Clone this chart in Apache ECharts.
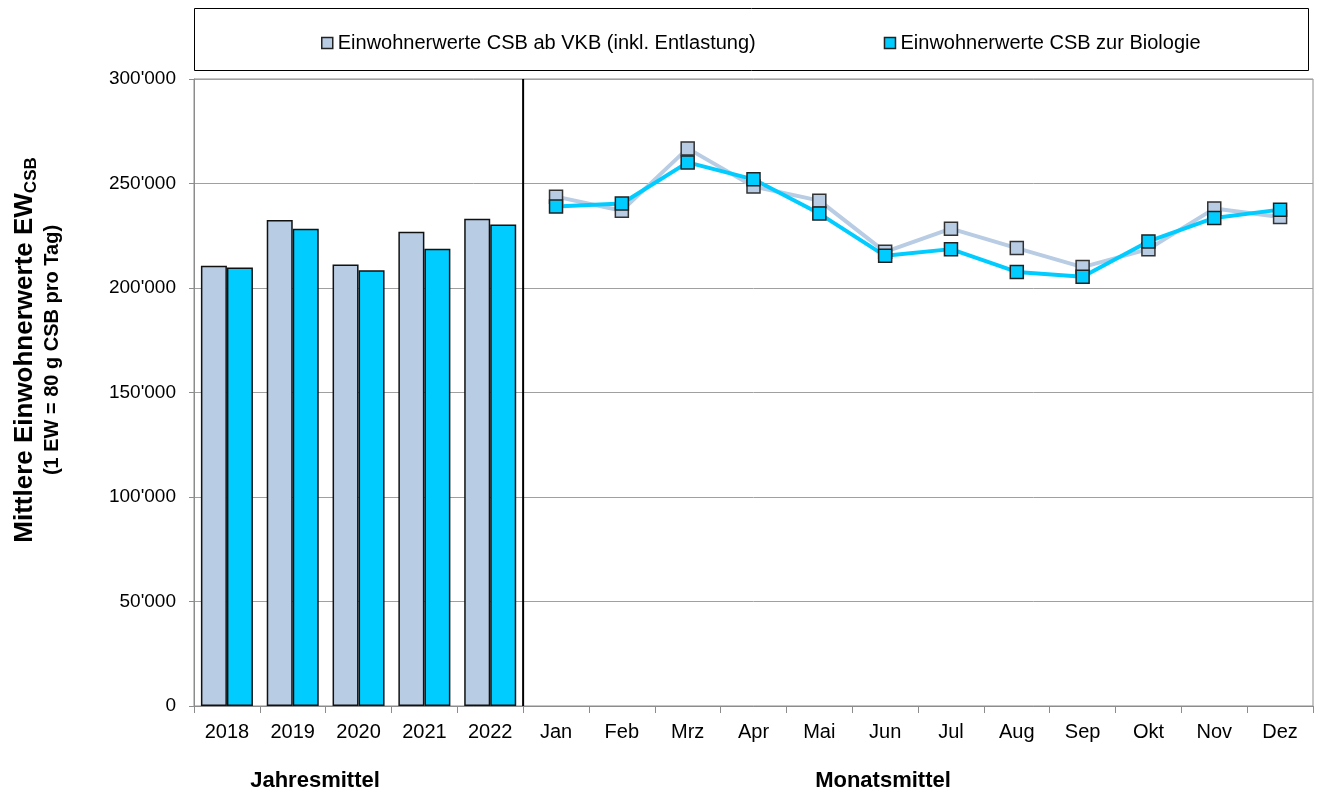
<!DOCTYPE html>
<html>
<head>
<meta charset="utf-8">
<script src="https://cdn.jsdelivr.net/npm/echarts@6/dist/echarts.min.js"></script>
<style>
  html, body { margin: 0; padding: 0; background: #fff; }
  #chart { width: 1322px; height: 793px; }
</style>
</head>
<body>
<div id="chart"></div>
<script>
// categories: yearly means then monthly means
const years = ['2018', '2019', '2020', '2021', '2022'];
const months = ['Jan', 'Feb', 'Mrz', 'Apr', 'Mai', 'Jun', 'Jul', 'Aug', 'Sep', 'Okt', 'Nov', 'Dez'];

// yearly means (bars)
const yearVkb = [210600, 232500, 211200, 226900, 233100];
const yearBio = [209800, 228400, 208500, 218800, 230400];

// monthly means (lines)
const monthVkb = [243700, 237000, 266800, 248600, 241800, 217300, 228400, 219100, 210000, 218600, 238000, 234000];
const monthBio = [239000, 240400, 260100, 252000, 235600, 215400, 218600, 207700, 205400, 222300, 233500, 237500];

const yTicks = [0, 50000, 100000, 150000, 200000, 250000, 300000];

const nameVkb = 'Einwohnerwerte CSB ab VKB (inkl. Entlastung)';
const nameBio = 'Einwohnerwerte CSB zur Biologie';

const colVkb = '#b8cce4';
const colBio = '#00ccff';
const font = 'Liberation Sans, Arial, sans-serif';

const categories = years.concat(months);
const blanksY = months.map(() => '-');
const blanksM = years.map(() => '-');

function fmt(v) {
    return String(v).replace(/\B(?=(\d{3})+(?!\d))/g, "'");
}

const chart = echarts.init(document.getElementById('chart'));

const option = {
    animation: false,
    textStyle: { fontFamily: font },
    grid: {
        left: 194, right: 9, top: 79, bottom: 87,
        show: true, borderColor: '#8c8c8c', borderWidth: 1
    },
    legend: {
        top: 28,
        left: 316,
        itemWidth: 11,
        itemHeight: 11,
        itemGap: 128,
        textStyle: { fontSize: 20, color: '#000', fontFamily: font },
        data: [
            { name: nameVkb, icon: 'rect', itemStyle: { color: colVkb, borderColor: '#222', borderWidth: 1.5 } },
            { name: nameBio, icon: 'rect', itemStyle: { color: colBio, borderColor: '#222', borderWidth: 1.5 } }
        ]
    },
    xAxis: {
        type: 'category',
        data: categories,
        boundaryGap: true,
        axisLine: { lineStyle: { color: '#8c8c8c' } },
        axisTick: { show: true, length: 7, lineStyle: { color: '#8c8c8c' } },
        axisLabel: { color: '#000', fontSize: 20, margin: 16, fontFamily: font, interval: 0 }
    },
    yAxis: {
        type: 'value',
        min: yTicks[0],
        max: yTicks[yTicks.length - 1],
        interval: 50000,
        axisLine: { show: true, lineStyle: { color: '#8c8c8c' } },
        axisTick: { show: true, length: 5, lineStyle: { color: '#8c8c8c' } },
        axisLabel: { color: '#000', fontSize: 19, margin: 18, fontFamily: font, formatter: fmt },
        splitLine: { lineStyle: { color: '#a0a0a0', width: 1 } }
    },
    series: [
        {
            name: nameVkb, type: 'bar', barWidth: 26, barGap: '0%',
            data: yearVkb.concat(blanksY),
            itemStyle: { color: colVkb, borderColor: '#111', borderWidth: 1.5 }
        },
        {
            name: nameBio, type: 'bar', barWidth: 26, barGap: '0%',
            data: yearBio.concat(blanksY),
            itemStyle: { color: colBio, borderColor: '#111', borderWidth: 1.5 }
        },
        {
            name: nameVkb, type: 'line',
            data: blanksM.concat(monthVkb),
            symbol: 'rect', symbolSize: 13,
            lineStyle: { color: colVkb, width: 4 },
            itemStyle: { color: colVkb, borderColor: '#333', borderWidth: 1.5 }
        },
        {
            name: nameBio, type: 'line',
            data: blanksM.concat(monthBio),
            symbol: 'rect', symbolSize: 13,
            lineStyle: { color: colBio, width: 4 },
            itemStyle: { color: colBio, borderColor: '#222', borderWidth: 1.5 }
        }
    ]
};

chart.setOption(option);

// separator between yearly and monthly part, placed through the axis scale
const xa = chart.convertToPixel({ xAxisIndex: 0 }, years[years.length - 1]);
const xb = chart.convertToPixel({ xAxisIndex: 0 }, months[0]);
const xSep = (xa + xb) / 2;
const yTop = chart.convertToPixel({ yAxisIndex: 0 }, yTicks[yTicks.length - 1]);
const yBot = chart.convertToPixel({ yAxisIndex: 0 }, yTicks[0]);

chart.setOption({
    graphic: [
        {
            type: 'rect', z: -1,
            shape: { x: 194.5, y: 8.5, width: 1114, height: 62 },
            style: { fill: '#fff', stroke: '#000', lineWidth: 1 }
        },
        {
            type: 'line', z: 10,
            shape: { x1: xSep, y1: yTop, x2: xSep, y2: yBot },
            style: { stroke: '#000', lineWidth: 2 }
        },
        {
            // y axis title, rotated
            type: 'text', x: 37, y: 350, rotation: Math.PI / 2,
            style: {
                text: '{a|Mittlere Einwohnerwerte EW}{s|CSB}\n{b|(1 EW = 80 g CSB pro Tag)}',
                align: 'center', verticalAlign: 'middle',
                rich: {
                    a: { font: 'bold 26px ' + font, fill: '#000', lineHeight: 30 },
                    s: { font: 'bold 17px ' + font, fill: '#000', lineHeight: 30, verticalAlign: 'bottom' },
                    b: { font: 'bold 20px ' + font, fill: '#000', lineHeight: 24 }
                }
            }
        },
        {
            type: 'text', x: 315, y: 781,
            style: { text: 'Jahresmittel', font: 'bold 22px ' + font, fill: '#000', align: 'center', verticalAlign: 'middle' }
        },
        {
            type: 'text', x: 883, y: 781,
            style: { text: 'Monatsmittel', font: 'bold 22px ' + font, fill: '#000', align: 'center', verticalAlign: 'middle' }
        }
    ]
});
</script>
</body>
</html>
